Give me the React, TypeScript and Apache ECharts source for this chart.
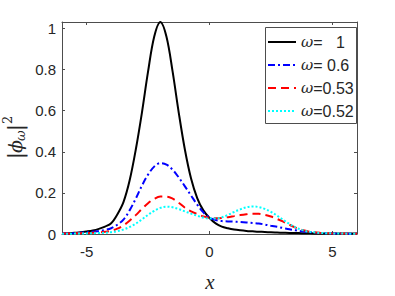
import React, { useEffect, useRef } from 'react';
import * as echarts from 'echarts';

const xValues = [
  -6, -5.75, -5.5, -5.25, -5, -4.75, -4.5, -4.25, -4, -3.75, -3.5, -3.25, -3, -2.75, -2.5, -2.25,
  -2, -1.75, -1.5, -1.25, -1, -0.75, -0.5, -0.25, 0, 0.25, 0.5, 0.75, 1, 1.25, 1.5, 1.75,
  2, 2.25, 2.5, 2.75, 3, 3.25, 3.5, 3.75, 4, 4.25, 4.5, 4.75, 5, 5.25, 5.5, 5.75, 6,
];

const omega1 = [
  0.003, 0.004, 0.006, 0.008, 0.012, 0.017, 0.025, 0.036, 0.052, 0.095, 0.155, 0.26, 0.41, 0.59, 0.79, 0.96,
  1.032, 0.96, 0.79, 0.59, 0.41, 0.27, 0.175, 0.115, 0.078, 0.052, 0.036, 0.028, 0.022, 0.018, 0.015, 0.013,
  0.011, 0.01, 0.008, 0.007, 0.006, 0.005, 0.005, 0.004, 0.004, 0.003, 0.003, 0.003, 0.003, 0.002, 0.002, 0.002, 0.002,
];

const omega06 = [
  0.002, 0.003, 0.004, 0.006, 0.008, 0.011, 0.015, 0.02, 0.028, 0.045, 0.07, 0.115, 0.172, 0.235, 0.289, 0.328,
  0.345, 0.338, 0.313, 0.275, 0.232, 0.187, 0.143, 0.105, 0.08, 0.068, 0.063, 0.061, 0.06, 0.058, 0.056, 0.054,
  0.051, 0.046, 0.04, 0.035, 0.029, 0.023, 0.018, 0.013, 0.01, 0.007, 0.005, 0.004, 0.003, 0.002, 0.002, 0.001, 0.001,
];

const omega053 = [
  0.002, 0.002, 0.003, 0.004, 0.005, 0.006, 0.008, 0.011, 0.016, 0.026, 0.042, 0.065, 0.092, 0.122, 0.15, 0.171,
  0.182, 0.182, 0.172, 0.152, 0.128, 0.11, 0.097, 0.086, 0.079, 0.077, 0.078, 0.082, 0.087, 0.092, 0.096, 0.099,
  0.098, 0.093, 0.085, 0.073, 0.06, 0.045, 0.031, 0.021, 0.014, 0.009, 0.006, 0.004, 0.003, 0.002, 0.002, 0.001, 0.001,
];

const omega052 = [
  0.001, 0.001, 0.002, 0.002, 0.003, 0.004, 0.005, 0.006, 0.009, 0.014, 0.022, 0.034, 0.05, 0.071, 0.093, 0.113,
  0.127, 0.133, 0.13, 0.121, 0.11, 0.099, 0.089, 0.08, 0.075, 0.075, 0.081, 0.093, 0.107, 0.12, 0.13, 0.134,
  0.131, 0.122, 0.108, 0.089, 0.069, 0.049, 0.032, 0.02, 0.012, 0.008, 0.005, 0.004, 0.003, 0.002, 0.002, 0.001, 0.001,
];

const seriesNames = ['ω=   1', 'ω= 0.6', 'ω=0.53', 'ω=0.52'];
const xTicks = [-5, 0, 5];
const yTicks = [0, 0.2, 0.4, 0.6, 0.8, 1];

const AXIS_COLOR = '#4d4d4d';
const TEXT_COLOR = '#262626';
const SANS = 'Liberation Sans, Arial, sans-serif';
const SERIF = 'DejaVu Serif, serif';

export default function App() {
  const ref = useRef<HTMLDivElement>(null);

  useEffect(() => {
    document.body.style.margin = '0';
    if (!ref.current) return;
    const chart = echarts.init(ref.current, null, { renderer: 'svg' });

    const makeSeries = (name: string, vals: number[], color: string, type: any) => ({
      name,
      type: 'line',
      data: xValues.map((x, i) => [x, vals[i]]),
      symbol: 'none',
      smooth: 0.35,
      xAxisIndex: 0,
      yAxisIndex: 0,
      lineStyle: { color, width: 2, type },
      itemStyle: { color },
      z: 2,
    });

    const axisLine = { show: true, onZero: false, lineStyle: { color: AXIS_COLOR, width: 1 } };

    chart.setOption({
      animation: false,
      backgroundColor: '#ffffff',
      grid: { left: 62, right: 38, top: 22, bottom: 62, containLabel: false },
      xAxis: [
        {
          type: 'value',
          min: -6,
          max: 6,
          position: 'bottom',
          axisLine,
          axisTick: { show: true, inside: true, length: 3, customValues: xTicks, lineStyle: { color: AXIS_COLOR } },
          axisLabel: {
            show: true,
            customValues: xTicks,
            margin: 10,
            color: TEXT_COLOR,
            fontFamily: SANS,
            fontSize: 15,
          },
          splitLine: { show: false },
        },
        {
          type: 'value',
          min: -6,
          max: 6,
          position: 'top',
          axisLine,
          axisTick: { show: true, inside: true, length: 3, customValues: xTicks, lineStyle: { color: AXIS_COLOR } },
          axisLabel: { show: false },
          splitLine: { show: false },
        },
      ],
      yAxis: [
        {
          type: 'value',
          min: 0,
          max: 1.032,
          position: 'left',
          axisLine,
          axisTick: { show: true, inside: true, length: 3, customValues: yTicks, lineStyle: { color: AXIS_COLOR } },
          axisLabel: {
            show: true,
            customValues: yTicks,
            margin: 6,
            color: TEXT_COLOR,
            fontFamily: SANS,
            fontSize: 15,
          },
          splitLine: { show: false },
        },
        {
          type: 'value',
          min: 0,
          max: 1.032,
          position: 'right',
          axisLine,
          axisTick: { show: true, inside: true, length: 3, customValues: yTicks, lineStyle: { color: AXIS_COLOR } },
          axisLabel: { show: false },
          splitLine: { show: false },
        },
      ],
      legend: {
        orient: 'vertical',
        left: 267,
        top: 34,
        padding: 0,
        itemWidth: 28,
        itemHeight: 16,
        itemGap: 7,
        data: seriesNames,
        itemStyle: { opacity: 0 },
        formatter: (name: string) => '{w|ω}{t|' + name.slice(1).replace(/ /g, '\u00a0') + '}',
        textStyle: {
          color: TEXT_COLOR,
          rich: {
            w: { fontFamily: SERIF, fontStyle: 'italic', fontSize: 15, color: TEXT_COLOR },
            t: { fontFamily: SANS, fontSize: 16, color: TEXT_COLOR },
          },
        },
        z: 5,
      },
      graphic: [
        {
          type: 'rect',
          shape: { x: 265.5, y: 27.5, width: 91, height: 96 },
          style: { fill: '#ffffff', stroke: AXIS_COLOR, lineWidth: 1 },
          z: 3,
        },
        {
          type: 'text',
          x: 210,
          y: 282,
          style: {
            text: 'x',
            font: 'italic 21px "Liberation Serif", serif',
            fill: TEXT_COLOR,
            align: 'center',
            verticalAlign: 'middle',
          },
        },
        {
          type: 'group',
          x: 15,
          y: 159,
          rotation: Math.PI / 2,
          children: [
            { type: 'text', x: 0, y: 0, style: { text: '|', font: '20px "DejaVu Serif", serif', fill: TEXT_COLOR, align: 'left', verticalAlign: 'middle' } },
            { type: 'text', x: 6, y: 0, style: { text: 'ϕ', font: 'italic 19px "DejaVu Serif", serif', fill: TEXT_COLOR, align: 'left', verticalAlign: 'middle' } },
            { type: 'text', x: 18, y: 5, style: { text: 'ω', font: 'italic 13px "DejaVu Serif", serif', fill: TEXT_COLOR, align: 'left', verticalAlign: 'middle' } },
            { type: 'text', x: 28, y: 0, style: { text: '|', font: '20px "DejaVu Serif", serif', fill: TEXT_COLOR, align: 'left', verticalAlign: 'middle' } },
            { type: 'text', x: 35, y: -8, style: { text: '2', font: '13px "DejaVu Serif", serif', fill: TEXT_COLOR, align: 'left', verticalAlign: 'middle' } },
          ],
        },
      ],
      series: [
        makeSeries(seriesNames[0], omega1, '#000000', 'solid'),
        makeSeries(seriesNames[1], omega06, '#0000ff', [7, 3, 2, 3]),
        makeSeries(seriesNames[2], omega053, '#ff0000', [8, 5]),
        makeSeries(seriesNames[3], omega052, '#00ffff', [2, 2]),
      ],
    });

    return () => chart.dispose();
  }, []);

  return <div ref={ref} style={{ width: 395, height: 296 }} />;
}
